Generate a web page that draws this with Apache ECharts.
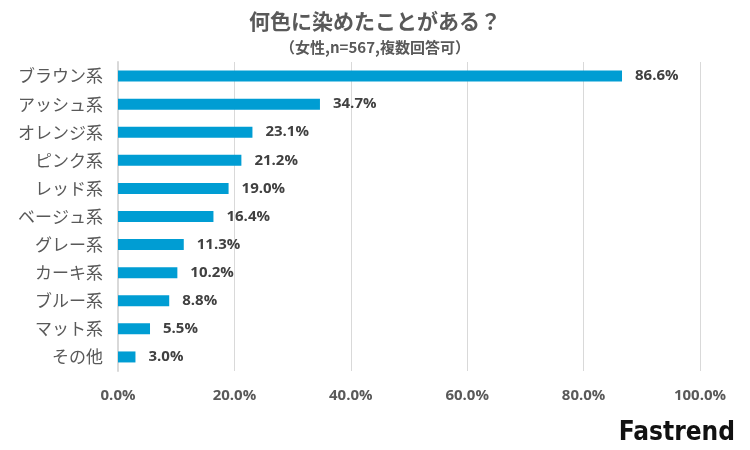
<!DOCTYPE html>
<html><head><meta charset="utf-8">
<script src="https://cdn.jsdelivr.net/npm/echarts@6/dist/echarts.min.js"></script>
<style>html,body{margin:0;padding:0;background:#fff}#c{width:750px;height:450px}</style>
</head><body><div id="c"></div>
<script>
const categories = ['ブラウン系','アッシュ系','オレンジ系','ピンク系','レッド系','ベージュ系','グレー系','カーキ系','ブルー系','マット系','その他'];
const values = [86.6,34.7,23.1,21.2,19.0,16.4,11.3,10.2,8.8,5.5,3.0];
const titleText = '何色に染めたことがある？';
const subtitleText = '（女性,n=567,複数回答可）';
const logoText = 'Fastrend';

const chart = echarts.init(document.getElementById('c'));
chart.setOption({
  animation:false,
  title:[
    {text:titleText,left:'center',top:6,textStyle:{fontFamily:'Noto Sans CJK JP',fontSize:21,fontWeight:'bold',color:'#595959'}},
    {text:subtitleText,left:'center',top:35,textStyle:{fontFamily:'Noto Sans CJK JP',fontSize:15,fontWeight:'bold',color:'#595959'}}
  ],
  grid:{left:118,right:50,top:62,bottom:79,containLabel:false},
  xAxis:{type:'value',min:0,max:100,interval:20,
    axisLabel:{formatter:v=>v.toFixed(1)+'%',fontFamily:'Open Sans',fontWeight:'bold',fontSize:15,color:'#595959',margin:17},
    splitLine:{lineStyle:{color:'#d9d9d9',width:1}},axisLine:{show:false},axisTick:{show:false}},
  yAxis:{type:'category',data:categories,inverse:true,
    axisLine:{lineStyle:{color:'#d9d9d9',width:2}},axisTick:{show:false},
    axisLabel:{fontFamily:'Noto Sans CJK JP',fontSize:17,color:'#595959',margin:15}},
  series:[{type:'bar',data:values,barWidth:11,itemStyle:{color:'#009DD3'},
    label:{show:true,position:'right',distance:13,formatter:p=>p.value.toFixed(1)+'%',fontFamily:'Open Sans',fontWeight:'bold',fontSize:15,color:'#404040'}}],
  graphic:[{type:'text',right:15,bottom:4,style:{text:logoText,font:'bold 26px "DejaVu Sans Condensed", "DejaVu Sans"',fill:'#111'}}]
});
</script></body></html>
